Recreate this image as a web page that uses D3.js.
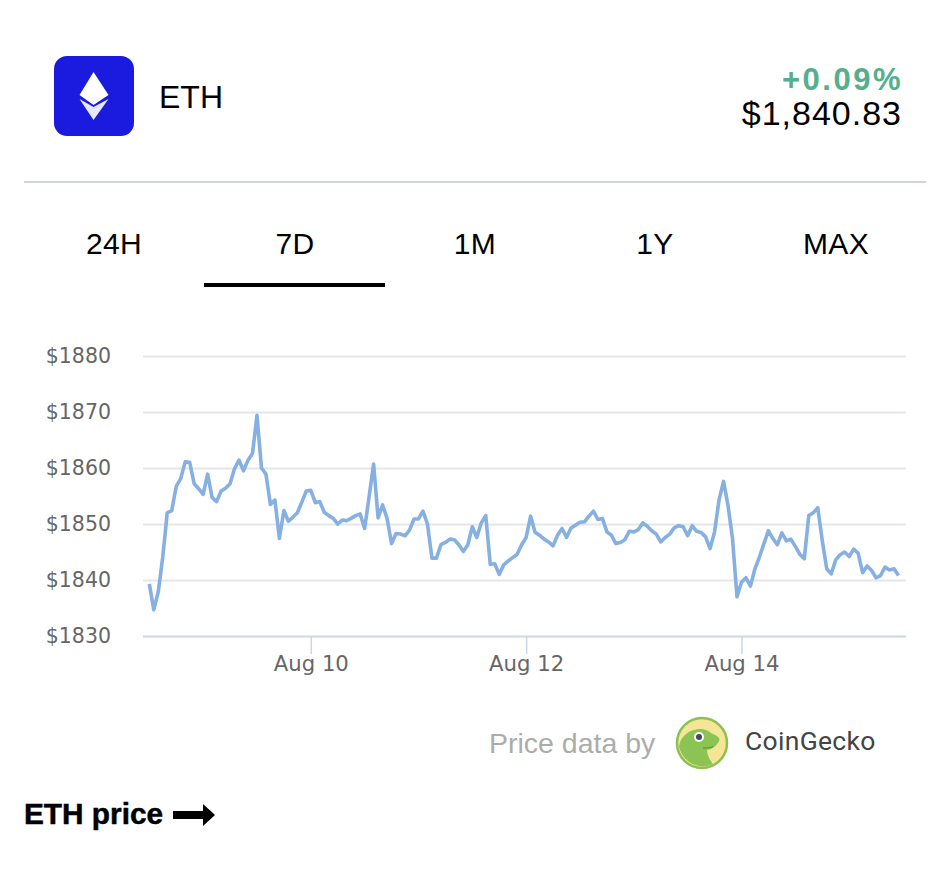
<!DOCTYPE html>
<html>
<head>
<meta charset="utf-8">
<script src="https://cdn.jsdelivr.net/npm/d3@7"></script>
<style>
    body { margin: 0; background: #fff; }
    svg { display: block; }
    text { font-family: "Liberation Sans", sans-serif; }
    .axis text { font-family: "DejaVu Sans", sans-serif; font-size: 20.5px; fill: #666; }
    .xaxis text { font-size: 21.2px; }
    .axis path { display: none; }
</style>
</head>
<body>
<svg width="946" height="884"></svg>
<script>
const prices = [
    1839.3, 1834.7, 1837.9, 1844.1, 1852, 1852.4, 1856.7, 1858.1, 1861.1, 1861,
    1857.2, 1856.3, 1855.3, 1858.9, 1854.7, 1854, 1855.9, 1856.4, 1857.2, 1859.9,
    1861.4, 1859.5, 1861.4, 1862.6, 1869.4, 1860, 1858.9, 1853.5, 1854.3, 1847.4,
    1852.4, 1850.5, 1851.2, 1852, 1853.9, 1855.9, 1856, 1853.8, 1854, 1852.1,
    1851.5, 1851, 1850, 1850.7, 1850.6, 1851, 1851.5, 1851.8, 1849.2, 1854.9,
    1860.7, 1851.1, 1853.4, 1851, 1846.5, 1848.3, 1848.2, 1847.9, 1848.9, 1850.9,
    1850.9, 1852.3, 1850, 1843.9, 1843.9, 1846.3, 1846.7, 1847.3, 1847.2, 1846.3,
    1845.1, 1846.3, 1849.5, 1847.6, 1850.2, 1851.5, 1842.8, 1842.9, 1841, 1842.7,
    1843.4, 1844, 1844.6, 1846.3, 1847.6, 1851.4, 1848.5, 1848, 1847.3, 1846.8,
    1846.1, 1848, 1849.2, 1847.6, 1849.3, 1849.8, 1850.3, 1850.4, 1851.4, 1852.3,
    1850.8, 1851, 1848.6, 1848, 1846.5, 1846.7, 1847.2, 1848.7, 1848.6, 1849,
    1850.2, 1849.6, 1848.8, 1848.2, 1846.8, 1847.6, 1848.2, 1849.3, 1849.7, 1849.5,
    1847.9, 1849.7, 1848.7, 1848.5, 1847.7, 1845.6, 1848.6, 1854.3, 1857.6, 1853.3,
    1847.4, 1837, 1839.6, 1840.4, 1838.9, 1842, 1844.1, 1846.5, 1848.8, 1847.4,
    1846.3, 1848.4, 1847, 1847.3, 1846, 1844.6, 1843.8, 1851.5, 1852, 1852.9,
    1847.1, 1842, 1841.1, 1843.6, 1844.5, 1845, 1844.2, 1845.5, 1844.8, 1841.3,
    1842.5, 1841.7, 1840.4, 1840.8, 1842.3, 1841.8, 1842, 1840.8
];
const firstHour = new Date(2023, 7, 8, 12);
const yTicks = [1830, 1840, 1850, 1860, 1870, 1880];
const xTicks = [new Date(2023, 7, 10), new Date(2023, 7, 12), new Date(2023, 7, 14)];
const tabs = ['24H', '7D', '1M', '1Y', 'MAX'];
const tabCenters = [114, 295, 475, 655, 836];

const svg = d3.select('svg');

// header
svg.append('rect').attr('x', 54).attr('y', 56).attr('width', 80).attr('height', 80).attr('rx', 13).attr('fill', '#1b1adf');
svg.append('path').attr('d', 'M93.5 72 L108.5 95 L93.5 105 L79.5 95 Z').attr('fill', '#fff');
svg.append('path').attr('d', 'M79.5 99 L93.5 107 L108.5 99 L93.5 120 Z').attr('fill', '#fff').attr('opacity', 0.9);

svg.append('text').text('ETH').attr('x', 159).attr('y', 108).attr('font-size', 32).attr('fill', '#000');
svg.append('text').text('+0.09%').attr('x', 903).attr('y', 90).attr('text-anchor', 'end')
    .attr('font-size', 31).attr('letter-spacing', 2.5).attr('font-weight', 'bold').attr('fill', '#55ae8c');
svg.append('text').text('$1,840.83').attr('x', 902).attr('y', 125).attr('text-anchor', 'end')
    .attr('font-size', 34).attr('letter-spacing', 1).attr('fill', '#000');
svg.append('line').attr('x1', 24).attr('x2', 926).attr('y1', 182).attr('y2', 182).attr('stroke', '#cfd5da').attr('stroke-width', 2);

// tabs
svg.selectAll('.tab').data(tabs).join('text').attr('class', 'tab').text(d => d)
    .attr('x', (d, i) => tabCenters[i]).attr('y', 254).attr('text-anchor', 'middle')
    .attr('font-size', 30).attr('letter-spacing', 0.3).attr('fill', '#000');
svg.append('rect').attr('x', 204).attr('y', 283).attr('width', 181).attr('height', 4).attr('fill', '#000');

// chart
const x = d3.scaleTime()
    .domain([firstHour, d3.timeHour.offset(firstHour, prices.length - 1)])
    .range([149.3, 898.5]);
const y = d3.scaleLinear().domain([1830, 1880]).range([636, 356]);

svg.append('g').attr('class', 'axis').attr('transform', 'translate(143,0)')
    .call(d3.axisLeft(y).tickValues(yTicks).tickSize(-763).tickPadding(32).tickFormat(d => '$' + d))
    .call(g => g.selectAll('line').attr('stroke', d => d == 1830 ? '#ccd6eb' : '#e3e6ea').attr('stroke-width', 2));

svg.append('g').attr('class', 'axis xaxis').attr('transform', 'translate(0,636)')
    .call(d3.axisBottom(x).tickValues(xTicks).tickSize(18).tickPadding(2).tickFormat(d3.timeFormat('%b %d')))
    .call(g => g.selectAll('line').attr('stroke', '#ccd6eb').attr('stroke-width', 1.5));

const line = d3.line().x((d, i) => x(d3.timeHour.offset(firstHour, i))).y(d => y(d));
svg.append('path').datum(prices).attr('d', line).attr('fill', 'none')
    .attr('stroke', '#86b0e2').attr('stroke-width', 3.6).attr('stroke-linejoin', 'round');

// footer
svg.append('text').text('Price data by').attr('x', 489).attr('y', 753).attr('font-size', 28.5).attr('fill', '#acacac');
const gecko = svg.append('g').attr('transform', 'translate(702,743)');
gecko.append('circle').attr('r', 25).attr('fill', '#f5e596').attr('stroke', '#8cc152').attr('stroke-width', 2.5);
gecko.append('path').attr('fill', '#8bc453')
    .attr('d', 'M-23 4 C-22 -6 -14 -13 -3 -14 C3 -14 7 -12 9 -10 C14 -8 19 -5 17 -2 C15 3 9 7 5 7 C5 12 8 17 11 21 C0 27 -18 22 -23 4 Z');
gecko.append('circle').attr('cx', -3).attr('cy', -6).attr('r', 5).attr('fill', '#fff');
gecko.append('circle').attr('cx', -3).attr('cy', -6).attr('r', 3).attr('fill', '#3f4a5a');
gecko.append('path').attr('d', 'M1 5 Q7 5.5 11 3.5').attr('fill', 'none').attr('stroke', '#5b8f2a').attr('stroke-width', 1);
svg.append('text').text('CoinGecko').attr('x', 745).attr('y', 750).attr('font-size', 26.5).attr('fill', '#444')
    .style('font-family', '"Roboto", sans-serif').attr('letter-spacing', 0.3);

svg.append('text').text('ETH price').attr('x', 24).attr('y', 824).attr('font-size', 29.8).attr('font-weight', 'bold')
    .attr('fill', '#000').attr('stroke', '#000').attr('stroke-width', 0.5);
svg.append('path').attr('d', 'M173 811 H203 V804 L215 815 L203 826 V819 H173 Z').attr('fill', '#000');
</script>
</body>
</html>
